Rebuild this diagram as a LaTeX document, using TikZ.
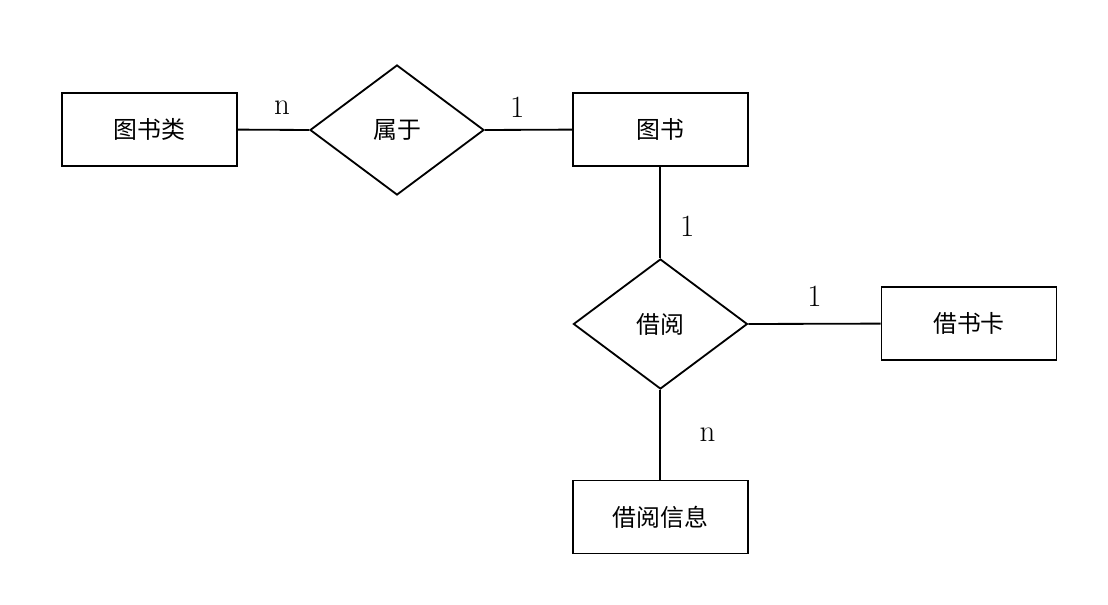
\documentclass[tikz,border=0pt]{standalone}
\usepackage{fontspec}
\newfontfamily\cjk{Noto Sans CJK SC}
\usetikzlibrary{shapes.geometric}

\begin{document}
\begin{tikzpicture}[line width=1.3pt,
    entity/.style={draw, rectangle, minimum width=4.375cm, minimum height=1.825cm, font=\cjk\fontsize{17}{19}\selectfont},
    rel/.style={draw, diamond, minimum width=4.35cm, minimum height=3.25cm, inner sep=0pt, font=\cjk\fontsize{17}{19}\selectfont},
    card/.style={font=\fontsize{22}{25}\selectfont}]
    \useasboundingbox (0,0) rectangle (27.7,-15.125);
    \node[entity] (tsl) at (3.74,-3.24) {图书类};
    \node[rel] (shuyu) at (9.925,-3.25) {属于};
    \node[entity] (ts) at (16.51,-3.24) {图书};
    \node[rel] (jieyue) at (16.51,-8.1) {借阅};
    \node[entity] (jsk) at (24.225,-8.09) {借书卡};
    \node[entity] (jyxx) at (16.51,-12.925) {借阅信息};
    \draw (tsl.east) -- (shuyu.west) node[card, pos=.62, above=7pt]{n};
    \draw (shuyu.east) -- (ts.west) node[card, pos=.37, above=5pt]{1};
    \draw (ts.south) -- (jieyue.north) node[card, pos=.65, right=10pt]{1};
    \draw (jieyue.east) -- (jsk.west) node[card, midway, above=8pt]{1};
    \draw (jieyue.south) -- (jyxx.north) node[card, midway, right=24pt]{n};
\end{tikzpicture}
\end{document}
